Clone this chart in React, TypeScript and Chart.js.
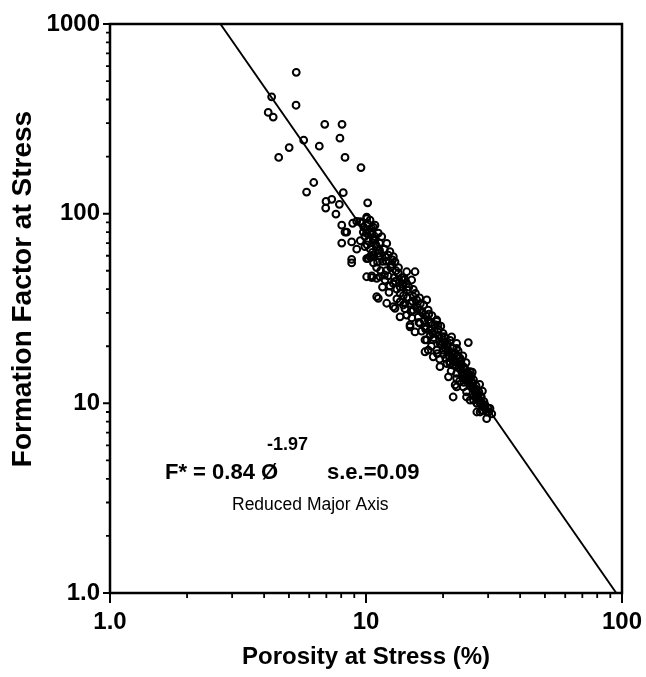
import React, { useEffect, useRef } from "react";
import { Chart, registerables } from "chart.js";

Chart.register(...registerables);

// ---- data (porosity at stress %, formation factor at stress) ----
const upperSamples: [number, number][] = [
  [5.34, 556], [4.28, 413], [5.33, 373], [4.15, 342], [4.34, 323], [6.9, 296], [8.06, 296],
  [7.91, 250], [5.71, 244], [5.01, 223], [6.57, 227], [4.56, 198], [8.28, 198], [9.56, 175],
  [6.25, 146], [5.86, 130], [8.15, 129], [10.15, 114], [6.98, 116], [7.35, 119], [7.87, 112],
  [6.96, 107], [7.63, 99.5], [8.04, 87], [8.28, 80], [8.04, 70], [8.79, 71], [8.41, 80],
  [8.79, 57.4], [8.79, 55],
];

const clusterSamples: [number, number][] = [
  [8.87, 89], [9.2, 91], [9.62, 89], [10.06, 96], [10.37, 92.5], [10.68, 85], [10.06, 79],
  [10.68, 72.6], [11.01, 67], [10.53, 59], [10.06, 58], [9.48, 90.7], [10.06, 94], [10.84, 87],
  [10.06, 82], [10.53, 80], [11.17, 79], [10.84, 72.6], [11.17, 61.8], [10.37, 59.3], [10.06, 46.5],
  [10.53, 46], [11.01, 45.6], [11.01, 36.5], [9.76, 80], [10.53, 78.7], [11.52, 75.6], [12.05, 69.7],
  [10.21, 58.1], [10.68, 60.5], [11.34, 59.3], [12.22, 60.5], [12.79, 59.3], [12.98, 55.7],
  [10.53, 47], [11.34, 46.5], [11.86, 44.7], [13.37, 48.5], [14.42, 49.4], [15.54, 49.4],
  [15.08, 44.7], [13.99, 44.7], [12.79, 42.9], [13.58, 41.2], [14.42, 42.9], [15.3, 39.9],
  [11.17, 35.8], [12.05, 33.7], [12.98, 31.7], [13.99, 33.0], [14.86, 33.7], [15.78, 35.1],
  [17.27, 35.1], [13.58, 28.6], [14.42, 29.2], [15.3, 31], [16.25, 31], [14.86, 25.3],
  [15.54, 23.8], [17.0, 25.3], [17.78, 24.3], [18.9, 27.5], [17.0, 21.6], [18.3, 21.6],
  [19.75, 22.4], [21.6, 22.4], [22.6, 20.7], [25.1, 20.9], [17.5, 19.1], [18.3, 17.6],
  [20.0, 19.1], [21.6, 18.3], [23.3, 17.3], [19.45, 15.6], [20.7, 16.2], [21.9, 15.9],
  [24.0, 15.6], [25.5, 14.7], [21.0, 13.8], [22.6, 14.4], [24.7, 13.8], [26.3, 13.3],
  [22.3, 12.5], [24.0, 12.2], [26.3, 12.2], [27.1, 11.1], [21.9, 10.8], [24.7, 10.8],
  [26.3, 10.4], [27.9, 10.0], [28.3, 9.2], [27.1, 9.0], [30.0, 9.4], [29.6, 8.3],
  [12.79, 32.3], [13.58, 34.3], [14.2, 33.7], [14.86, 25.9], [16.25, 26.4], [17.5, 27.5],
  [18.9, 27.0], [17.27, 21.6], [20.0, 23.4], [17.0, 18.7], [18.9, 19.1], [20.7, 19.9],
  [22.6, 19.5], [21.29, 16.2], [23.3, 16.2], [22.6, 13.5], [22.6, 12.2], [24.7, 11.5],
  [26.7, 11.75], [27.5, 11.1], [25.5, 10.4], [27.1, 10.0], [28.7, 9.6], [30.5, 9.4], [27.9, 9.0],
];

const denseSamples: [number, number][] = [
  [9.8, 85], [10.2, 88], [10.5, 84], [9.9, 76], [10.8, 76], [11.3, 70], [11.8, 65], [12.4, 63],
  [11.6, 56], [12.5, 52], [13.1, 50], [13.8, 46], [14.2, 45], [14.7, 41], [15.6, 38], [16.2, 36],
  [16.8, 33], [17.5, 31], [18.1, 29], [18.6, 26], [19.2, 24.5], [19.6, 25.5], [20.3, 21],
  [20.8, 20.5], [21.3, 21.5], [21.8, 19.5], [22.2, 18.5], [22.8, 17.8], [23.5, 16.8], [23.9, 17.8],
  [24.4, 15.2], [25.0, 14.5], [25.8, 14.0], [24.2, 13.5], [25.3, 12.8], [26.0, 12.7], [26.9, 12.4],
  [27.6, 11.5], [28.2, 10.8], [28.9, 10.2], [29.2, 9.8], [29.6, 9.0], [26.4, 10.9], [23.2, 13.1],
  [21.5, 14.8], [20.5, 17.3], [19.0, 18.3], [18.0, 20.0], [17.8, 22.8], [16.5, 24.0], [16.0, 28.5],
  [15.0, 30.5], [14.0, 37], [13.2, 40], [12.3, 38.5], [11.6, 41], [12.9, 46], [12.0, 50],
  [11.0, 52], [10.4, 65], [9.5, 72], [9.2, 65],
  [12.0, 56], [12.6, 54], [13.4, 52], [13.0, 44], [13.6, 38], [14.5, 36], [15.2, 34.5], [15.9, 32],
  [16.6, 30], [17.2, 28.8], [17.9, 26.5], [18.5, 24], [19.3, 22.8], [19.9, 21], [20.4, 19.5],
  [21.1, 18.8], [21.7, 17.5], [22.4, 16.5], [23.0, 15.4], [23.7, 14.6], [24.3, 14.1], [24.9, 13.2],
  [25.6, 12.4], [26.2, 11.9], [26.8, 11.3], [27.3, 10.6], [28.0, 10.3], [28.6, 9.9], [29.3, 9.3],
  [30.2, 9.0], [31.0, 8.8], [16.9, 27.2], [18.2, 23.5], [19.8, 20.3], [21.0, 17.9], [22.0, 16.7],
  [23.6, 15.9], [25.4, 13.6], [20.2, 22.5], [19.1, 25.8], [17.6, 29.5], [16.3, 33.5], [15.3, 36.5],
  [14.5, 39.5], [13.9, 42.5], [22.9, 18.9], [24.6, 16.4], [26.0, 14.6], [27.8, 12.6], [28.5, 11.6],
  [11.3, 64], [10.9, 69], [10.2, 72], [9.9, 67], [11.9, 59], [12.7, 57], [10.7, 55], [11.4, 50],
  [12.2, 47], [13.5, 43.5],
  [18.4, 22.2], [19.5, 20.6], [20.9, 19.2], [21.9, 17.0], [23.4, 15.1], [24.8, 14.0], [25.9, 13.0],
  [27.0, 11.8], [28.1, 10.9], [29.0, 9.6], [17.1, 24.6], [16.1, 26.7], [15.1, 28.2], [14.2, 31.5],
  [13.2, 35.5], [12.4, 41.5], [11.8, 47.5], [11.1, 55.5], [10.6, 62.5], [10.1, 68.5], [20.1, 18.1],
  [22.5, 15.8], [24.1, 12.9], [19.4, 17.1], [21.2, 16.6], [23.9, 14.3],
];

// reduced major axis fit line end points (read where it meets the frame)
const fitLine: [number, number][] = [
  [2.7, 1000],
  [95, 1.0],
];

const xTickValues = [1, 10, 100];
const xTickLabels = ["1.0", "10", "100"];
const yTickValues = [1, 10, 100, 1000];
const yTickLabels = ["1.0", "10", "100", "1000"];
const xMinorTicks = [2, 3, 4, 5, 6, 7, 8, 9, 20, 30, 40, 50, 60, 70, 80, 90];
const yMinorTicks = [2, 3, 4, 5, 6, 7, 8, 9, 20, 30, 40, 50, 60, 70, 80, 90, 200, 300, 400, 500, 600, 700, 800, 900];

const xTitle = "Porosity at Stress (%)";
const yTitle = "Formation Factor at Stress";
const eqMain = "F* = 0.84 Ø";
const eqExp = "-1.97";
const eqSe = "s.e.=0.09";
const eqNote = "Reduced Major Axis";

const FONT = "'Liberation Sans', Arial, Helvetica, sans-serif";

const framePlugin = {
  id: "frame",
  afterDraw(chart: any) {
    const { ctx, chartArea: a, scales } = chart;
    const xs = scales.x;
    const ys = scales.y;
    ctx.save();
    ctx.strokeStyle = "#000";
    ctx.lineWidth = 2.5;
    ctx.strokeRect(a.left, a.top, a.right - a.left, a.bottom - a.top);

    ctx.lineWidth = 2;
    ctx.beginPath();
    for (const v of xTickValues) {
      const p = xs.getPixelForValue(v);
      ctx.moveTo(p, a.bottom);
      ctx.lineTo(p, a.bottom + 10);
    }
    for (const v of yTickValues) {
      const p = ys.getPixelForValue(v);
      ctx.moveTo(a.left, p);
      ctx.lineTo(a.left - 7, p);
    }
    ctx.stroke();
    ctx.lineWidth = 1.8;
    ctx.beginPath();
    for (const v of xMinorTicks) {
      const p = xs.getPixelForValue(v);
      ctx.moveTo(p, a.bottom);
      ctx.lineTo(p, a.bottom + 5);
    }
    for (const v of yMinorTicks) {
      const p = ys.getPixelForValue(v);
      ctx.moveTo(a.left, p);
      ctx.lineTo(a.left - 4, p);
    }
    ctx.stroke();

    ctx.fillStyle = "#000";
    // y axis title
    ctx.save();
    ctx.translate(23, a.top + 265);
    ctx.rotate(-Math.PI / 2);
    ctx.font = `bold 28px ${FONT}`;
    ctx.textAlign = "center";
    ctx.textBaseline = "middle";
    ctx.fillText(yTitle, 0, 0);
    ctx.restore();

    // equation annotation
    ctx.textAlign = "left";
    ctx.textBaseline = "middle";
    ctx.font = `bold 22px ${FONT}`;
    ctx.fillText(eqMain, a.left + 55, a.top + 449);
    ctx.fillText(eqSe, a.left + 217, a.top + 449);
    ctx.font = `bold 18px ${FONT}`;
    ctx.fillText(eqExp, a.left + 157, a.top + 421);
    ctx.font = `17.5px ${FONT}`;
    ctx.fillText(eqNote, a.left + 122, a.top + 481);
    ctx.restore();
  },
};

export default function App() {
  const ref = useRef<HTMLCanvasElement | null>(null);
  useEffect(() => {
    if (!ref.current) return;
    const toPts = (arr: [number, number][]) => arr.map(([x, y]) => ({ x, y }));
    const pointStyle = {
      showLine: false,
      pointRadius: 3.4,
      pointBorderWidth: 2,
      pointBorderColor: "#000",
      pointBackgroundColor: "rgba(0,0,0,0)",
      pointHoverRadius: 3.4,
    };
    const chart = new Chart(ref.current, {
      type: "scatter",
      data: {
        datasets: [
          { label: "upper", data: toPts(upperSamples), ...pointStyle },
          { label: "cluster", data: toPts(clusterSamples), ...pointStyle },
          { label: "dense", data: toPts(denseSamples), ...pointStyle },
          {
            label: "fit",
            data: toPts(fitLine),
            showLine: true,
            borderColor: "#000",
            borderWidth: 1.9,
            pointRadius: 0,
            fill: false,
          },
        ],
      },
      options: {
        responsive: false,
        animation: false,
        events: [],
        layout: { padding: { top: 24, right: 24, left: 0, bottom: 0 } },
        plugins: { legend: { display: false }, tooltip: { enabled: false } },
        scales: {
          x: {
            type: "logarithmic",
            min: 1,
            max: 100,
            afterBuildTicks: (s: any) => {
              s.ticks = xTickValues.map((v) => ({ value: v }));
            },
            afterFit: (s: any) => {
              s.height = 84;
              s.paddingLeft = 0;
              s.paddingRight = 0;
            },
            grid: { display: false, drawTicks: false, tickLength: 0 },
            border: { display: false },
            ticks: {
              autoSkip: false,
              maxRotation: 0,
              padding: 15,
              color: "#000",
              font: { family: FONT, size: 24, weight: "bold" },
              callback: (_v: any, i: number) => xTickLabels[i],
            },
            title: {
              display: true,
              text: xTitle,
              color: "#000",
              font: { family: FONT, size: 24, weight: "bold" },
              padding: { top: 0, bottom: 5 },
            },
          },
          y: {
            type: "logarithmic",
            min: 1,
            max: 1000,
            afterBuildTicks: (s: any) => {
              s.ticks = yTickValues.map((v) => ({ value: v }));
            },
            afterFit: (s: any) => {
              s.width = 110;
              s.paddingTop = 0;
              s.paddingBottom = 0;
            },
            grid: { display: false, drawTicks: false, tickLength: 0 },
            border: { display: false },
            ticks: {
              autoSkip: false,
              padding: 10,
              color: "#000",
              font: { family: FONT, size: 24, weight: "bold" },
              callback: (_v: any, i: number) => yTickLabels[i],
            },
          },
        },
      },
      plugins: [framePlugin],
    });
    return () => chart.destroy();
  }, []);
  return (
    <div style={{ position: "absolute", left: 0, top: 0, width: 646, height: 677, background: "#fff" }}>
      <canvas ref={ref} width={646} height={677} style={{ display: "block" }} />
    </div>
  );
}
